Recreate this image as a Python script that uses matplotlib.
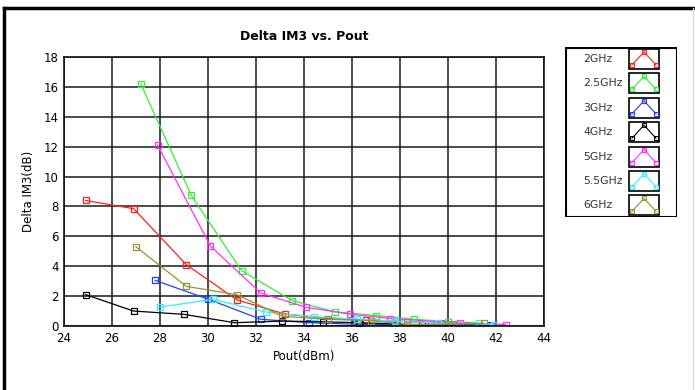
import matplotlib.pyplot as plt
from matplotlib.lines import Line2D
from matplotlib.patches import Rectangle

# Données
labels = ["2GHz", "2.5GHz", "3GHz", "4GHz", "5GHz", "5.5GHz", "6GHz"]
colors = ["#ff2020", "#33ee33", "#2040ff", "#000000", "#ff30ff", "#30f0ff", "#9a9030"]

x_2g = [24.9, 26.9, 29.1, 31.2, 33.2, 35.0, 36.6, 38.3, 39.7, 40.8]
y_2g = [8.4, 7.85, 4.1, 1.75, 0.8, 0.5, 0.4, 0.3, 0.2, 0.1]

x_25g = [27.2, 29.3, 31.4, 33.5, 35.3, 37.0, 38.6, 40.0, 41.0]
y_25g = [16.2, 8.75, 3.7, 1.7, 0.95, 0.7, 0.45, 0.3, 0.1]

x_3g = [27.8, 30.0, 32.2, 34.2, 36.1, 37.7, 39.3, 40.4, 41.8]
y_3g = [3.05, 1.8, 0.45, 0.22, 0.12, 0.08, 0.08, 0.1, 0.05]

x_4g = [24.9, 26.9, 29.0, 31.1, 33.1, 34.8, 36.3, 38.9, 40.0]
y_4g = [2.1, 1.0, 0.78, 0.22, 0.33, 0.28, 0.22, 0.07, 0.05]

x_5g = [27.9, 30.1, 32.2, 34.1, 35.9, 37.6, 40.5, 42.4]
y_5g = [12.1, 5.35, 2.2, 1.25, 0.8, 0.5, 0.2, 0.1]

x_55g = [28.0, 30.2, 32.4, 34.4, 36.2, 37.8, 39.6, 41.3, 41.9]
y_55g = [1.27, 1.78, 0.94, 0.62, 0.47, 0.33, 0.2, 0.18, 0.1]

x_6g = [27.0, 29.1, 31.2, 33.1, 35.0, 36.8, 38.3, 40.2, 41.5]
y_6g = [5.3, 2.65, 2.1, 0.65, 0.45, 0.35, 0.1, 0.12, 0.18]

series = [(x_2g, y_2g), (x_25g, y_25g), (x_3g, y_3g), (x_4g, y_4g),
          (x_5g, y_5g), (x_55g, y_55g), (x_6g, y_6g)]

plt.rcParams['font.family'] = ['DejaVu Sans']

fig = plt.figure(figsize=(6.95, 3.9), dpi=100)
ax = fig.add_axes([64 / 695, 1 - 326 / 390, 480 / 695, 269 / 390])

for (xs, ys), c in zip(series, colors):
    ax.plot(xs, ys, color=c, lw=0.9, marker="s", markersize=4.3,
            markerfacecolor="none", markeredgecolor=c, markeredgewidth=0.9)

ax.set_xlim(24, 44)
ax.set_ylim(0, 18)
ax.set_xticks(range(24, 45, 2))
ax.set_yticks(range(0, 19, 2))
ax.grid(True, color="#1a1a1a", lw=1.1)
ax.set_axisbelow(True)
ax.tick_params(length=0, labelsize=8.5, pad=4)
for s in ax.spines.values():
    s.set_color("#111111")
    s.set_linewidth(1.2)

ax.set_title("Delta IM3 vs. Pout", fontsize=9, fontweight="bold", pad=12)
ax.set_xlabel("Pout(dBm)", fontsize=8.5, labelpad=4)
ax.set_ylabel("Delta IM3(dB)", fontsize=8.5, labelpad=6)

# Légende dessinée à la main (cadres avec icône)
lax = fig.add_axes([565 / 695, 1 - 217 / 390, 112 / 695, 170 / 390])
lax.set_xlim(0, 112)
lax.set_ylim(170, 0)
lax.axis("off")
lax.add_patch(Rectangle((0.5, 0.5), 111, 169, fill=False, ec="black", lw=1.5))
for i, (lab, c) in enumerate(zip(labels, colors)):
    yc = 12 + i * 24.4
    lax.text(18, yc, lab, fontsize=7.8, va="center", ha="left", color="#333333")
    lax.add_patch(Rectangle((64, yc - 10), 30, 20, fill=False, ec="black", lw=1.2))
    lax.plot([67, 79, 91], [yc + 6, yc - 7, yc + 6], color=c, lw=0.8,
             marker="s", markersize=3, markerfacecolor="none", markeredgewidth=0.8)

# Cadre extérieur
fig.add_artist(Line2D([4 / 695, 693 / 695], [1 - 8 / 390, 1 - 8 / 390], color="black", lw=2.5))
fig.add_artist(Line2D([4 / 695, 4 / 695], [0, 1 - 8 / 390], color="black", lw=2.5))
fig.add_artist(Line2D([693 / 695, 693 / 695], [0, 1 - 8 / 390], color="#dddddd", lw=1))

fig.savefig("out.png", dpi=100)
